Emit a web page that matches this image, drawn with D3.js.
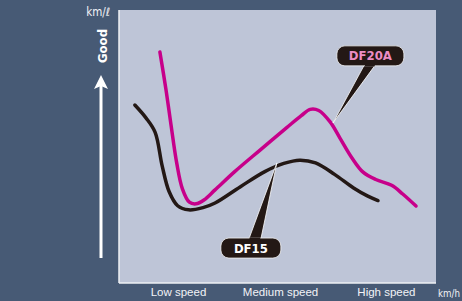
<!DOCTYPE html>
<html><head><meta charset="utf-8">
<script src="https://cdn.jsdelivr.net/npm/d3@7"></script>
<style>
html,body{margin:0;padding:0;background:#475a75;}
svg{display:block;font-family:"Liberation Sans Narrow","DejaVu Sans Condensed","Roboto Condensed",Roboto,sans-serif;}
</style></head>
<body>
<script>
const xCategories = ["Low speed", "Medium speed", "High speed"];
const xCategoryPos = [18.6, 50.8, 84.2];
const df15 = [[5.0,65.2],[8.5,60.5],[11.4,55.2],[13.6,43],[15.8,33.5],[18.5,28.3],[22.0,26.8],[26.5,27.6],[30.3,29.3],[38.2,35.2],[46,40.8],[52,43.8],[57,45.0],[62,44.0],[68,39.8],[74,34.8],[78.5,31.8],[81.7,30.2]];
const df20a = [[12.9,84.6],[14.8,71],[16.4,58],[18.2,44],[20.0,34.5],[22.2,29.6],[24.3,29.0],[26.8,30.4],[30.3,34.1],[36.5,40.8],[44.5,48.7],[53.0,57.0],[57.5,61.3],[60.3,63.6],[63.0,63.2],[66.6,59.0],[69.7,53.1],[73.5,45.8],[77.0,40.6],[81,37.9],[86,35.8],[89.5,32.6],[93.7,28.2]];
const seriesNames = ["DF15", "DF20A"];
const calloutTips = [[49.8,44.0],[67.5,58.6]];
const calloutBoxes = [[41.6,12.8],[79.3,83.2]];

const W = 462, H = 301;
const plot = {l:119, t:10, r:436, b:283};
const x = d3.scaleLinear().domain([0,100]).range([plot.l, plot.r]);
const y = d3.scaleLinear().domain([0,100]).range([plot.b, plot.t]);

const svg = d3.select("body").append("svg").attr("width", W).attr("height", H);
svg.append("rect").attr("width", W).attr("height", H).attr("fill", "#475a75");
svg.append("rect").attr("x", plot.l).attr("y", plot.t).attr("width", plot.r-plot.l).attr("height", plot.b-plot.t).attr("fill", "#bec5d7");
svg.append("line").attr("x1", plot.l).attr("x2", plot.l).attr("y1", plot.t).attr("y2", plot.b).attr("stroke", "#eef0f5").attr("stroke-width", 1.5);
svg.append("line").attr("x1", plot.l).attr("x2", plot.r).attr("y1", plot.b).attr("y2", plot.b).attr("stroke", "#eef0f5").attr("stroke-width", 1.5);

const xAxis = d3.axisBottom(x).tickValues(xCategoryPos).tickFormat((d,i)=>xCategories[i]).tickSize(0).tickPadding(5);
const gx = svg.append("g").attr("transform", `translate(0,${plot.b})`).call(xAxis);
gx.select(".domain").remove();
gx.selectAll("text").attr("fill", "#f2f3f7").attr("font-size", 11.5).attr("font-family", "inherit");
svg.append("text").attr("x", 438).attr("y", 297).attr("fill", "#f2f3f7").attr("font-size", 10.5).attr("textLength", 22).attr("lengthAdjust", "spacingAndGlyphs").text("km/h");

svg.append("text").attr("x", 110).attr("y", 16).attr("text-anchor", "end").attr("fill", "#f2f3f7").attr("font-size", 11.5).text("km/ℓ");
svg.append("text").attr("transform", "translate(106.5,46) rotate(-90)").attr("text-anchor", "middle").attr("fill", "#ffffff").attr("font-size", 13).attr("font-weight", "bold").text("Good");
svg.append("line").attr("x1", 101).attr("x2", 101).attr("y1", 258).attr("y2", 85).attr("stroke", "#ffffff").attr("stroke-width", 3);
svg.append("path").attr("d", "M101,75 L108,89 L101,86 L94,89 Z").attr("fill", "#ffffff");

const line = d3.line().x(d=>x(d[0])).y(d=>y(d[1])).curve(d3.curveCatmullRom.alpha(0.5));
svg.append("path").datum(df15).attr("d", line).attr("fill", "none").attr("stroke", "#231815").attr("stroke-width", 3.5).attr("stroke-linecap", "round").attr("stroke-linejoin", "round");
svg.append("path").datum(df20a).attr("d", line).attr("fill", "none").attr("stroke", "#c7008a").attr("stroke-width", 3.5).attr("stroke-linecap", "round").attr("stroke-linejoin", "round");

const boxW = [60, 67], boxH = 20;
const textColors = ["#ffffff", "#ec8cc3"];
seriesNames.forEach((name, i) => {
  const [tx, ty] = calloutTips[i];
  const [bx, by] = calloutBoxes[i];
  const cx = x(bx), cy = y(by);
  const tipX = x(tx), tipY = y(ty);
  const baseY = i === 0 ? cy - boxH/2 + 1 : cy + boxH/2 - 1;
  const g = svg.append("g");
  const p1 = i === 0 ? [cx - 2, baseY] : [cx - 6, baseY];
  const p2 = i === 0 ? [cx + 10, baseY] : [cx + 5, baseY];
  g.append("path").attr("d", `M${tipX},${tipY} L${p1[0]},${p1[1]} L${p2[0]},${p2[1]} Z`)
    .attr("fill", "#231815").attr("stroke", "#ffffff").attr("stroke-width", 0.8).attr("stroke-linejoin", "miter");
  g.append("rect").attr("x", cx - boxW[i]/2).attr("y", cy - boxH/2).attr("width", boxW[i]).attr("height", boxH)
    .attr("rx", 8).attr("fill", "#231815").attr("stroke", "#f4f4f4").attr("stroke-width", 0.8);
  g.append("path").attr("d", `M${p1[0]+0.6},${baseY} L${p2[0]-0.6},${baseY}`).attr("stroke", "#231815").attr("stroke-width", 3);
  g.append("text").attr("x", cx).attr("y", cy + 4.5).attr("text-anchor", "middle").attr("fill", textColors[i])
    .attr("font-size", 13).attr("font-weight", "bold").text(name);
});
</script>
</body></html>
